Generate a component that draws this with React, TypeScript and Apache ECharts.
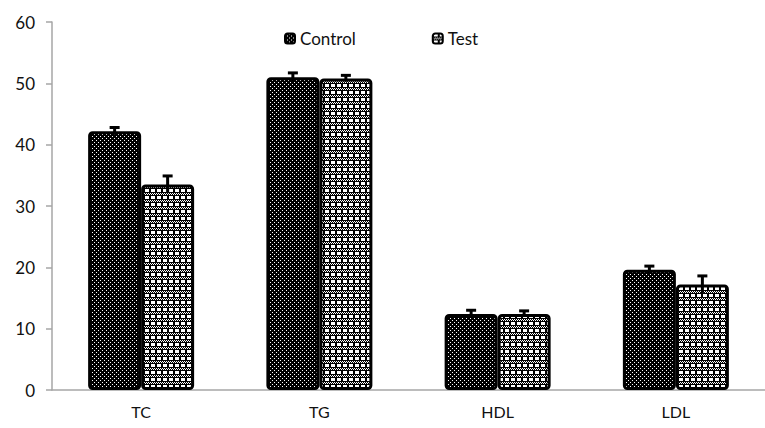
import React, { useEffect, useRef } from "react";
import * as echarts from "echarts";

const categories = ["TC", "TG", "HDL", "LDL"];
const controlValues = [42.2, 51.0, 12.4, 19.6];
const testValues = [33.5, 50.8, 12.4, 17.2];
const controlErrors = [0.6, 0.7, 0.6, 0.6];
const testErrors = [1.4, 0.5, 0.5, 1.4];
const yTicks = { min: 0, max: 60, interval: 10 };

const BAR_W = 53;

function makeControlPattern() {
  const c = document.createElement("canvas");
  c.width = 4;
  c.height = 4;
  const ctx = c.getContext("2d")!;
  ctx.fillStyle = "#000";
  ctx.fillRect(0, 0, 4, 4);
  ctx.fillStyle = "#fff";
  ctx.fillRect(0, 0, 1, 1);
  ctx.fillRect(2, 2, 1, 1);
  return c;
}

function makeTestPattern() {
  const w = 6;
  const h = 7;
  const c = document.createElement("canvas");
  c.width = w;
  c.height = h;
  const ctx = c.getContext("2d")!;
  ctx.fillStyle = "#000";
  ctx.fillRect(0, 0, w, h);
  ctx.fillStyle = "#fff";
  ctx.fillRect(1, 0, 4, 3);
  for (let y = 4; y < 6; y++) {
    for (let x = 0; x < w; x++) {
      if ((x + y) % 2 === 0) ctx.fillRect(x, y, 1, 1);
    }
  }
  return c;
}

export default function App() {
  const ref = useRef<HTMLDivElement>(null);
  useEffect(() => {
    if (!ref.current) return;
    const chart = echarts.init(ref.current, null, { renderer: "svg" });
    const cp = makeControlPattern();
    const tp = makeTestPattern();
    const controlFill: any = { image: cp, repeat: "repeat", imageWidth: 4, imageHeight: 4 };
    const testFill: any = { image: tp, repeat: "repeat", imageWidth: 6, imageHeight: 7 };

    const errData = (vals: number[], errs: number[]) =>
      vals.map((v, i) => [i, v, errs[i]]);

    const errRender = (offset: number) => (params: any, api: any) => {
      const i = api.value(0);
      const v = api.value(1);
      const e = api.value(2);
      const top = api.coord([i, v + e]);
      const bot = api.coord([i, v - e]);
      const x = top[0] + offset;
      return {
        type: "group",
        children: [
          {
            type: "line",
            shape: { x1: x, y1: top[1], x2: x, y2: bot[1] },
            style: { stroke: "#000", lineWidth: 3 },
          },
          {
            type: "line",
            shape: { x1: x - 5, y1: top[1], x2: x + 5, y2: top[1] },
            style: { stroke: "#000", lineWidth: 3 },
          },
        ],
      };
    };

    chart.setOption({
      animation: false,
      textStyle: { fontFamily: "Lato" },
      legend: {
        left: 279,
        top: 25,
        itemGap: 76,
        itemWidth: 10,
        itemHeight: 10,
        textStyle: { fontSize: 17, color: "#111", fontFamily: "Lato" },
        data: ["Control", "Test"],
      },
      grid: { left: 52, right: -8, top: 22, bottom: 38 },
      xAxis: {
        type: "category",
        data: categories,
        axisLine: { lineStyle: { color: "#a6a6a6", width: 1.5 } },
        axisTick: { show: false },
        axisLabel: { color: "#111", fontSize: 16, margin: 13, fontFamily: "Lato" },
      },
      yAxis: {
        type: "value",
        min: yTicks.min,
        max: yTicks.max,
        interval: yTicks.interval,
        axisLine: { show: true, lineStyle: { color: "#a6a6a6", width: 1.5 } },
        axisTick: { show: true, length: 6, lineStyle: { color: "#a6a6a6", width: 1.5 } },
        splitLine: { show: false },
        axisLabel: { color: "#111", fontSize: 17, margin: 17, fontFamily: "Lato" },
      },
      series: [
        {
          name: "Control",
          type: "bar",
          data: controlValues,
          barWidth: BAR_W,
          barGap: "0%",
          itemStyle: { color: controlFill, borderColor: "#000", borderWidth: 3, borderRadius: 3 },
        },
        {
          name: "Test",
          type: "bar",
          data: testValues,
          barWidth: BAR_W,
          barGap: "0%",
          itemStyle: { color: testFill, borderColor: "#000", borderWidth: 3, borderRadius: 3 },
        },
        {
          type: "custom",
          data: errData(controlValues, controlErrors),
          renderItem: errRender(-BAR_W / 2),
          z: 10,
          silent: true,
        },
        {
          type: "custom",
          data: errData(testValues, testErrors),
          renderItem: errRender(BAR_W / 2),
          z: 10,
          silent: true,
        },
      ],
    });
    return () => chart.dispose();
  }, []);
  return (
    <div
      ref={ref}
      style={{ position: "absolute", left: 0, top: 0, width: 765, height: 428 }}
    />
  );
}
